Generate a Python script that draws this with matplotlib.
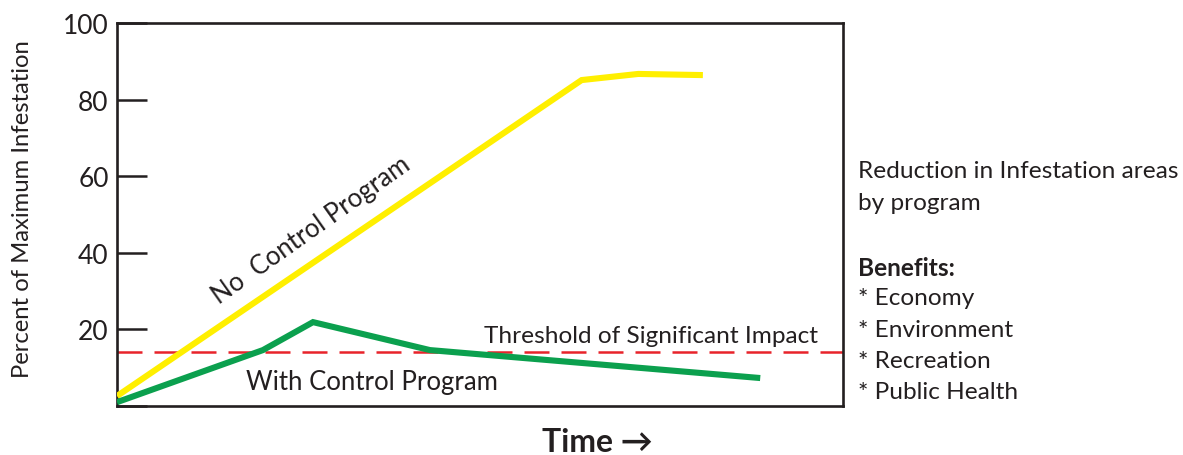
import matplotlib
matplotlib.use("Agg")
import matplotlib.pyplot as plt

plt.rcParams['font.family'] = ['Lato', 'DejaVu Sans']

# Time axis in arbitrary units (0-100), values in percent of maximum infestation
no_control_time = [0.0, 64.0, 71.8, 80.7]
no_control_pct = [2.6, 85.1, 86.7, 86.4]

with_control_time = [0.0, 20.1, 27.0, 43.1, 88.6]
with_control_pct = [1.0, 14.6, 21.9, 14.6, 7.3]

threshold_pct = 14.0

y_ticks = [0, 20, 40, 60, 80, 100]
y_tick_labels = ['', '20', '40', '60', '80', '100']

benefits = ['Economy', 'Environment', 'Recreation', 'Public Health']

INK = '#231F20'
YELLOW = '#FFEF00'
GREEN = '#0BA04E'
RED = '#E8232A'

W, H = 1183, 456
fig = plt.figure(figsize=(W / 100, H / 100), dpi=100)
ax = fig.add_axes([117 / W, 1 - 407 / H, (843 - 117) / W, (407 - 24) / H])

ax.set_xlim(0, 100)
ax.set_ylim(0, 100)

ax.axhline(threshold_pct, color=RED, lw=1.8, dashes=(10, 4.8), zorder=2)
ax.plot(no_control_time, no_control_pct, color=YELLOW, lw=4.4,
        solid_joinstyle='miter', solid_capstyle='butt', zorder=3)
ax.plot(with_control_time, with_control_pct, color=GREEN, lw=4.4,
        solid_joinstyle='miter', solid_capstyle='butt', zorder=4)

ax.text(26.7, 46.2, 'No  Control Program', rotation=35.3, rotation_mode='anchor',
        ha='center', va='center', fontsize=18.5, color=INK)
ax.text(35.1, 6.3, 'With Control Program', ha='center', va='center',
        fontsize=18.5, color=INK)
ax.text(73.6, 18.3, 'Threshold of Significant Impact', ha='center', va='center',
        fontsize=17.6, color=INK)

ax.set_xticks([])
ax.set_yticks(y_ticks)
ax.set_yticklabels(y_tick_labels)
ax.tick_params(axis='y', direction='in', length=21.5, width=1.8, color=INK,
               pad=6, labelsize=19, labelcolor=INK)
for sp in ax.spines.values():
    sp.set_linewidth(1.9)
    sp.set_color(INK)

fig.text(23 / W, 1 - 209 / H, 'Percent of Maximum Infestation', rotation=90,
         ha='center', va='center', fontsize=17.2, color=INK)
fig.text(597 / W, 1 - 443 / H, 'Time \u2192', ha='center', va='center',
         fontsize=23, fontweight='bold', color=INK)

x0 = 858 / W
text_size = 17.6
fig.text(x0, 1 - 172 / H, 'Reduction in Infestation areas', ha='left', va='center',
         fontsize=text_size, color=INK)
fig.text(x0, 1 - 204 / H, 'by program', ha='left', va='center',
         fontsize=text_size, color=INK)
fig.text(x0, 1 - 268 / H, 'Benefits:', ha='left', va='center',
         fontsize=text_size, fontweight='bold', color=INK)
for i, b in enumerate(benefits):
    fig.text(x0, 1 - (299 + 31.3 * i) / H, '* ' + b, ha='left', va='center',
             fontsize=text_size, color=INK)

fig.savefig('out.png', dpi=100)
